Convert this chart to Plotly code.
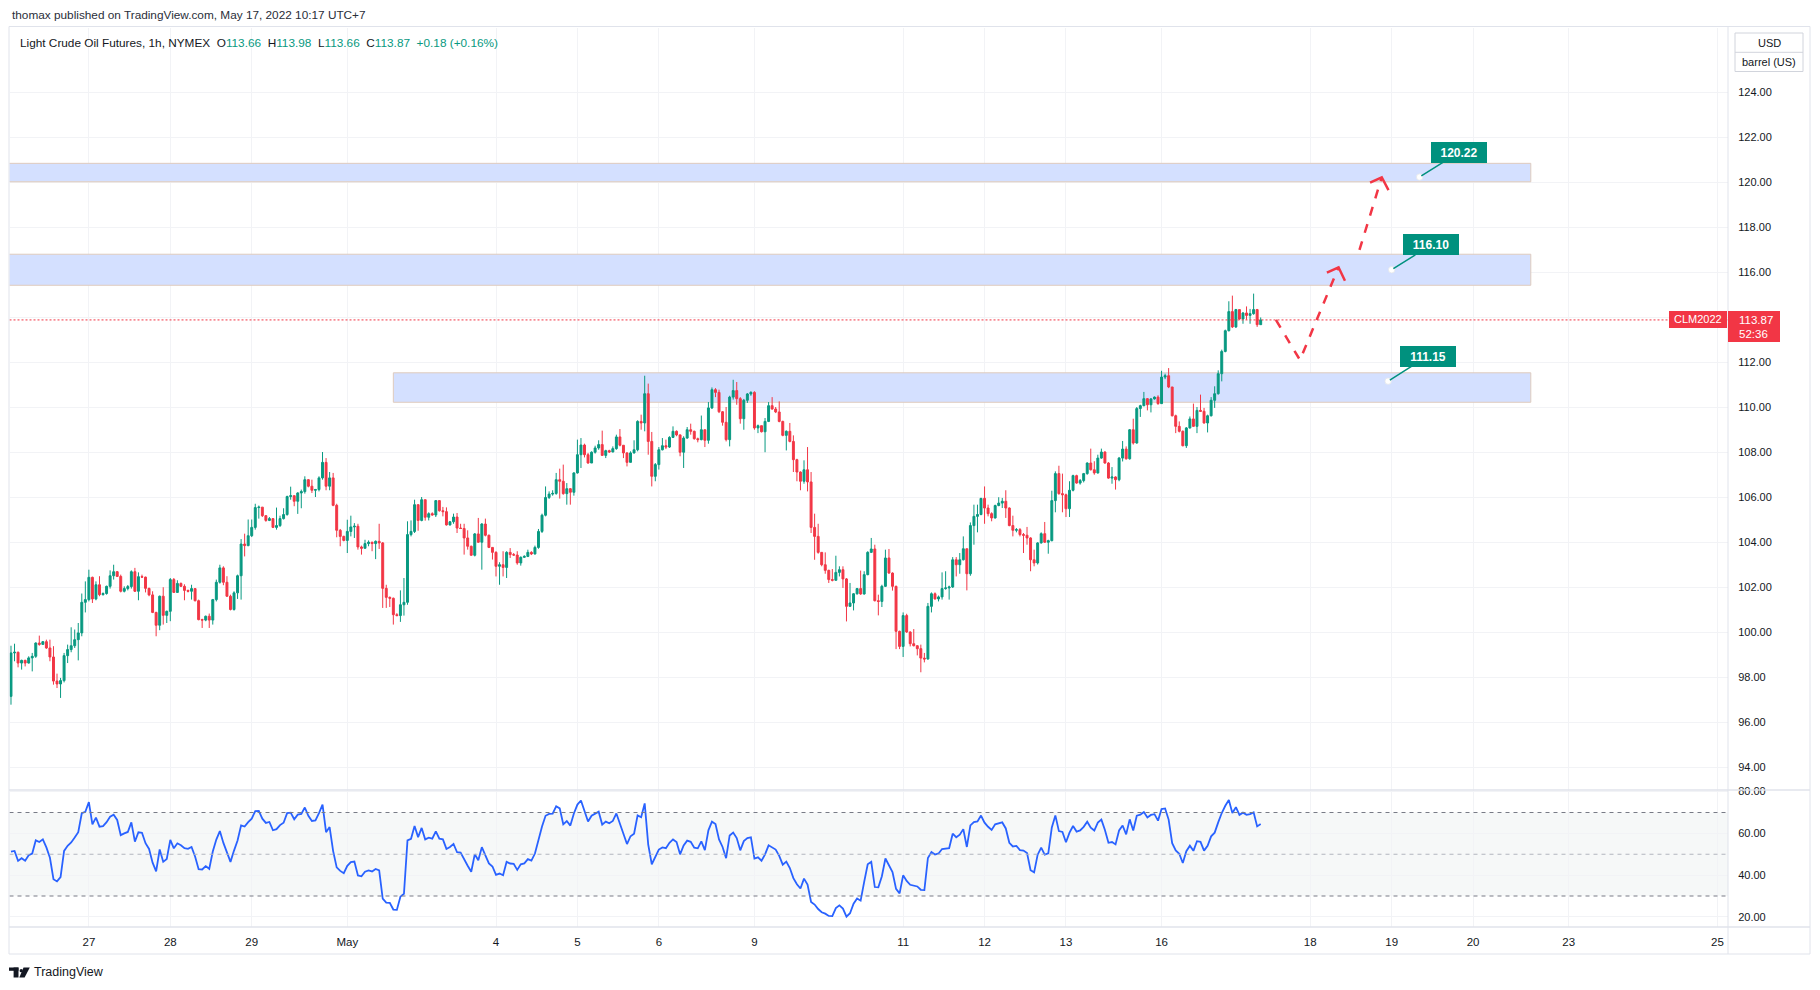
import plotly.graph_objects as go

W, H = 1820, 990

# hourly bars of CLM2022, 26 Apr 01:00 -> 17 May 10:00 (UTC+7)
first_open = 97.14
closes = [
    99.07, 99.10, 98.62, 98.74, 98.62, 98.85, 98.92, 99.51, 99.45, 99.57,
    99.29, 98.89, 97.82, 97.69, 97.84, 98.95, 99.22, 99.39, 99.66, 99.96,
    101.32, 101.44, 102.43, 101.47, 102.10, 101.66, 101.71, 102.03, 102.50, 102.68,
    102.47, 101.81, 101.93, 102.02, 102.68, 101.81, 102.46, 102.44, 101.94, 101.65,
    100.87, 100.30, 101.59, 100.74, 100.92, 102.33, 101.76, 102.16, 102.03, 101.85,
    101.81, 101.93, 101.39, 100.55, 100.53, 100.70, 100.53, 101.44, 102.21, 102.85,
    102.21, 101.59, 101.00, 101.74, 102.50, 103.91, 103.84, 104.28, 104.65, 105.53,
    105.55, 105.17, 104.96, 105.04, 104.65, 104.73, 105.04, 105.22, 106.02, 106.06,
    105.81, 106.18, 106.24, 106.77, 106.48, 106.30, 106.33, 106.85, 107.54, 106.48,
    106.85, 105.63, 104.52, 104.25, 104.07, 104.47, 104.67, 104.70, 103.78, 103.72,
    103.93, 103.99, 103.93, 104.03, 103.96, 101.94, 101.54, 101.50, 100.77, 100.73,
    101.21, 101.32, 104.33, 104.47, 105.66, 104.96, 105.88, 105.10, 105.26, 105.20,
    105.84, 105.39, 105.35, 104.76, 104.90, 105.11, 104.62, 104.60, 104.18, 103.81,
    103.41, 104.36, 103.99, 104.80, 104.30, 103.76, 103.54, 102.92, 102.99, 102.87,
    103.54, 103.44, 103.42, 103.07, 103.32, 103.36, 103.54, 103.47, 103.76, 104.47,
    105.19, 105.98, 106.13, 106.16, 106.77, 106.70, 106.15, 106.37, 106.21, 107.07,
    107.88, 108.31, 107.88, 107.51, 107.99, 108.18, 108.33, 107.85, 108.06, 108.00,
    108.15, 108.67, 108.30, 107.96, 107.54, 107.96, 108.10, 109.36, 109.29, 110.59,
    108.47, 106.92, 107.44, 108.10, 108.28, 108.22, 108.65, 108.92, 108.76, 107.99,
    108.62, 108.99, 108.92, 108.59, 108.55, 108.99, 108.52, 109.96, 110.77, 110.65,
    109.79, 109.32, 108.55, 110.44, 110.73, 110.37, 109.48, 110.30, 110.58, 110.65,
    109.07, 109.17, 108.90, 109.36, 110.06, 109.91, 109.78, 109.36, 108.74, 108.92,
    108.47, 107.66, 107.11, 106.70, 107.21, 106.67, 104.65, 104.25, 103.54, 102.99,
    102.74, 102.33, 102.30, 102.65, 102.77, 102.36, 101.14, 101.29, 101.70, 101.93,
    101.69, 102.55, 103.54, 103.69, 101.39, 101.36, 102.03, 103.29, 102.62, 102.03,
    100.03, 99.36, 100.73, 100.00, 99.48, 99.39, 99.26, 98.84, 98.80, 101.14,
    101.70, 101.47, 101.56, 101.93, 101.96, 102.00, 103.21, 102.99, 103.21, 103.70,
    102.59, 104.73, 105.14, 105.22, 105.94, 105.51, 105.26, 105.07, 105.62, 105.73,
    105.81, 105.51, 104.73, 104.52, 104.55, 104.33, 104.30, 104.18, 103.21, 103.07,
    103.96, 104.37, 103.99, 104.06, 105.84, 107.04, 106.15, 106.10, 105.48, 106.30,
    106.95, 106.62, 106.73, 107.04, 107.51, 107.21, 107.07, 107.73, 108.00, 107.51,
    106.84, 106.89, 106.77, 107.73, 108.13, 107.70, 108.99, 108.40, 109.93, 110.06,
    110.37, 110.10, 110.36, 110.44, 110.15, 111.33, 111.39, 110.89, 109.61, 109.14,
    108.92, 108.28, 109.07, 109.47, 109.14, 109.85, 109.81, 109.29, 109.61, 110.30,
    110.59, 111.48, 112.47, 113.39, 114.24, 113.56, 114.33, 113.91, 114.18, 114.07,
    114.15, 114.33, 113.66, 113.87,
]
highs = [
    99.39, 99.48, 99.13, 98.77, 98.77, 98.92, 99.07, 99.54, 99.84, 99.60,
    99.66, 99.66, 99.37, 98.15, 97.96, 99.07, 99.44, 100.21, 100.11, 100.40,
    101.71, 102.25, 102.77, 102.46, 102.25, 102.48, 101.76, 102.06, 102.74, 102.99,
    102.71, 102.55, 102.03, 102.09, 102.74, 102.85, 102.65, 102.55, 102.46, 101.97,
    101.81, 100.90, 101.62, 101.99, 100.95, 102.40, 102.40, 102.30, 102.20, 102.12,
    101.88, 102.10, 101.93, 101.44, 100.59, 100.73, 100.82, 101.47, 102.33, 102.99,
    102.92, 102.48, 101.66, 101.81, 102.55, 104.13, 104.37, 105.00, 105.00, 105.70,
    105.62, 105.55, 105.20, 105.11, 105.04, 105.53, 105.17, 105.50, 106.06, 106.46,
    106.06, 106.21, 106.33, 106.92, 106.80, 106.77, 106.36, 106.92, 108.00, 107.73,
    107.11, 107.07, 105.70, 104.58, 104.28, 104.99, 105.17, 104.84, 104.81, 103.84,
    104.10, 104.07, 104.01, 104.07, 104.81, 104.00, 102.10, 101.58, 101.53, 100.84,
    101.85, 102.40, 104.92, 104.96, 105.88, 105.66, 106.00, 105.88, 105.32, 105.32,
    105.85, 105.84, 105.56, 105.54, 104.93, 105.26, 105.29, 104.81, 104.81, 104.52,
    103.84, 104.40, 105.07, 104.84, 105.04, 104.33, 103.76, 103.59, 103.10, 103.59,
    103.59, 103.73, 103.51, 103.59, 103.36, 103.41, 103.66, 103.59, 103.84, 104.58,
    105.26, 106.47, 106.25, 106.30, 107.07, 107.26, 107.44, 106.62, 106.40, 107.10,
    108.55, 108.62, 108.37, 107.96, 108.03, 108.28, 108.52, 108.95, 108.10, 108.10,
    108.25, 108.77, 109.02, 108.31, 107.99, 108.03, 108.52, 109.41, 109.66, 111.39,
    111.04, 108.89, 107.51, 108.22, 108.62, 108.55, 108.70, 109.14, 108.96, 108.78,
    108.70, 109.11, 109.26, 108.95, 108.64, 109.62, 108.99, 110.22, 110.87, 110.84,
    110.77, 109.82, 110.00, 110.50, 111.21, 111.11, 110.44, 110.36, 110.62, 110.70,
    110.70, 109.22, 109.17, 109.51, 110.22, 110.44, 110.00, 110.25, 109.39, 108.96,
    109.29, 108.74, 107.70, 107.14, 107.63, 108.22, 107.11, 105.26, 104.81, 103.54,
    103.54, 102.77, 102.80, 103.39, 102.92, 102.92, 102.40, 102.18, 101.73, 101.96,
    102.73, 102.70, 103.59, 104.18, 103.88, 101.66, 102.10, 103.66, 103.69, 102.65,
    102.06, 100.06, 100.87, 100.81, 100.03, 100.13, 99.41, 99.44, 99.07, 101.29,
    101.76, 101.76, 101.62, 102.65, 102.70, 102.06, 103.33, 103.33, 103.51, 104.25,
    103.70, 104.87, 105.66, 105.66, 105.96, 106.47, 105.66, 105.32, 105.66, 105.99,
    105.96, 106.30, 105.54, 105.17, 104.62, 104.62, 104.40, 104.67, 104.21, 103.66,
    103.99, 104.43, 104.89, 104.10, 106.28, 107.14, 107.39, 107.04, 106.15, 106.70,
    106.99, 106.99, 106.80, 107.07, 107.54, 108.15, 107.59, 107.88, 108.15, 108.03,
    107.55, 107.33, 106.92, 107.78, 108.49, 108.25, 109.02, 109.48, 110.00, 110.10,
    110.67, 110.40, 110.40, 110.47, 110.52, 111.61, 111.48, 111.73, 110.89, 109.66,
    109.36, 108.96, 109.11, 109.58, 110.15, 110.00, 110.55, 109.96, 109.66, 110.44,
    110.92, 111.63, 112.55, 113.44, 114.70, 114.95, 114.36, 114.33, 114.22, 114.47,
    114.36, 115.04, 114.36, 113.98,
]
lows = [
    96.77, 98.70, 98.43, 98.33, 98.47, 98.60, 98.25, 98.85, 99.39, 99.45,
    99.25, 98.70, 97.66, 97.51, 97.07, 97.76, 98.62, 99.10, 99.29, 98.74,
    99.81, 100.87, 101.36, 101.29, 101.41, 101.59, 101.62, 101.66, 101.93, 102.33,
    102.45, 101.76, 101.76, 101.85, 101.93, 101.78, 101.41, 102.40, 101.76, 101.59,
    100.84, 99.81, 100.08, 100.33, 100.40, 100.48, 101.74, 101.74, 102.00, 101.41,
    101.76, 101.44, 101.36, 100.52, 100.18, 100.48, 100.18, 100.33, 101.36, 102.15,
    102.08, 101.56, 100.96, 100.95, 101.47, 101.44, 103.36, 103.81, 104.22, 104.55,
    105.04, 105.11, 104.90, 104.93, 104.62, 104.55, 104.67, 105.00, 105.17, 105.88,
    105.59, 105.25, 105.50, 106.15, 106.43, 106.18, 106.00, 106.25, 106.77, 106.30,
    106.30, 105.59, 104.21, 103.81, 104.03, 103.51, 104.25, 104.18, 103.66, 103.44,
    103.72, 103.81, 103.59, 103.24, 103.69, 101.07, 101.07, 101.11, 100.33, 100.70,
    100.45, 100.73, 101.21, 104.25, 104.40, 104.50, 104.92, 104.95, 104.96, 105.17,
    105.11, 105.35, 105.14, 104.73, 104.73, 104.81, 104.40, 104.58, 103.44, 103.66,
    103.39, 103.36, 103.96, 102.77, 104.25, 103.73, 103.22, 102.47, 102.10, 102.47,
    102.40, 103.29, 103.38, 102.99, 102.95, 103.29, 103.33, 103.42, 103.44, 103.70,
    104.40, 105.14, 105.91, 106.06, 106.10, 105.93, 106.10, 105.66, 105.66, 106.06,
    107.04, 107.29, 107.76, 107.48, 107.51, 107.93, 108.10, 107.84, 107.73, 107.96,
    107.99, 108.10, 108.25, 107.73, 107.36, 107.54, 107.93, 108.03, 108.99, 108.92,
    107.88, 106.47, 106.70, 107.22, 108.07, 108.13, 108.18, 108.62, 108.70, 107.81,
    107.29, 108.59, 108.77, 108.55, 108.43, 108.52, 108.22, 108.37, 109.91, 110.44,
    109.73, 109.17, 108.47, 108.25, 110.33, 110.10, 109.26, 108.99, 110.18, 110.50,
    108.99, 108.84, 108.87, 107.99, 109.33, 109.88, 109.73, 109.32, 108.70, 108.07,
    108.43, 107.11, 106.70, 106.30, 106.59, 106.25, 104.40, 103.21, 103.48, 102.92,
    102.59, 102.18, 102.25, 102.28, 102.47, 101.96, 100.47, 101.14, 100.96, 101.66,
    101.65, 101.66, 102.52, 103.51, 101.36, 100.74, 101.11, 102.00, 102.59, 101.84,
    99.24, 99.24, 98.89, 99.96, 99.36, 99.36, 98.96, 98.21, 98.65, 98.77,
    100.87, 101.44, 101.36, 101.44, 101.88, 101.44, 101.96, 102.47, 102.59, 103.18,
    101.85, 102.50, 103.88, 104.43, 105.19, 104.81, 105.14, 104.92, 105.04, 105.59,
    105.51, 105.07, 104.70, 104.25, 104.43, 104.25, 103.51, 103.88, 102.70, 102.92,
    103.00, 103.93, 103.96, 103.48, 104.03, 105.32, 106.10, 105.32, 105.11, 105.11,
    106.25, 106.59, 106.55, 106.65, 106.99, 107.18, 106.99, 107.04, 107.70, 107.48,
    106.81, 106.59, 106.33, 106.70, 107.58, 107.66, 107.66, 108.33, 108.37, 109.56,
    110.03, 109.85, 109.76, 110.33, 110.10, 110.15, 111.24, 110.84, 109.58, 108.84,
    108.87, 108.25, 108.18, 109.04, 109.11, 108.84, 109.78, 109.26, 108.87, 109.58,
    109.96, 110.55, 111.14, 112.43, 113.36, 113.51, 113.51, 113.88, 113.70, 113.88,
    113.70, 114.10, 113.56, 113.66,
]
# each bar opens where the previous one closed
opens = [first_open] + closes[:-1]
bar_idx = list(range(len(closes)))

# day labels on the time axis (bar index of the first bar of that day)
day_idx = [22, 45, 68, 95, 137, 160, 183, 210, 252, 275, 298, 325, 367, 390, 413, 440, 482]
day_text = ["27", "28", "29", "May", "4", "5", "6", "9", "11", "12", "13", "16",
            "18", "19", "20", "23", "25"]

price_ticks = [94, 96, 98, 100, 102, 104, 106, 108, 110, 112, 114, 116, 118, 120, 122, 124]
rsi_ticks = [20, 40, 60, 80]
rsi_band = [30, 70]
rsi_mid = 50

# drawn supply/demand zones
zone_low = [120.01, 115.41, 110.21]
zone_high = [120.83, 116.79, 111.52]
zone_start = [-20, -20, 108.0]
zone_end = [429.3, 429.3, 429.3]

# price callouts
callout_price = [120.22, 116.10, 111.15]
callout_idx = [397.9, 390.0, 389.0]

# projected path (dashed arrows)
path1_x = [357.3, 364.1, 375.0]
path1_y = [113.87, 112.09, 116.21]
head1_x = [371.7, 375.0, 376.8]
head1_y = [115.97, 116.21, 115.61]
path2_x = [380.9, 387.2]
path2_y = [116.98, 120.21]
head2_x = [383.9, 387.2, 389.1]
head2_y = [119.97, 120.21, 119.64]

UP = "#089981"
DN = "#f23645"
TEAL = "#00917e"
TXT = "#131722"
FRAME = "#e0e3eb"
GRID = "#f2f3f6"
FONT = "Liberation Sans, Arial, sans-serif"

# pane geometry (pixels)
PL, PR = 9.5, 1728
MT, MB = 27.5, 790
RT, RB = 790, 927
X_RANGE = [-0.42, 485.0]
Y_RANGE = [92.978, 126.867]
R_RANGE = [15.15, 80.78]


def fx(p):
    return p / W


def fy(p):
    return 1 - p / H


def price_px(p):
    return MT + (Y_RANGE[1] - p) / (Y_RANGE[1] - Y_RANGE[0]) * (MB - MT)


def rect_px(x0, y0, x1, y1, **kw):
    return dict(type="rect", xref="paper", yref="paper",
                x0=fx(x0), x1=fx(x1), y0=fy(y1), y1=fy(y0), **kw)


def line_px(x0, y0, x1, y1, **kw):
    return dict(type="line", xref="paper", yref="paper",
                x0=fx(x0), x1=fx(x1), y0=fy(y0), y1=fy(y1), **kw)


def rsi(values, n=14, seed_gain=0.20, seed_loss=0.19):
    ag, al = seed_gain, seed_loss
    out = [100 - 100 / (1 + ag / al)]
    for a, b in zip(values[:-1], values[1:]):
        d = b - a
        ag = (ag * (n - 1) + max(d, 0)) / n
        al = (al * (n - 1) + max(-d, 0)) / n
        out.append(100 - 100 / (1 + ag / al))
    return out


rsi_vals = rsi(closes)
last = closes[-1]

fig = go.Figure()

fig.add_trace(go.Candlestick(
    x=bar_idx, open=opens, high=highs, low=lows, close=closes,
    increasing=dict(line=dict(color=UP, width=1), fillcolor=UP),
    decreasing=dict(line=dict(color=DN, width=1), fillcolor=DN),
    whiskerwidth=0, xaxis="x", yaxis="y", showlegend=False,
))

for px_, py_, dash in [(path1_x, path1_y, "9px,9px"), (head1_x, head1_y, "solid"),
                       (path2_x, path2_y, "9px,9px"), (head2_x, head2_y, "solid")]:
    fig.add_trace(go.Scatter(x=px_, y=py_, mode="lines", xaxis="x", yaxis="y",
                             line=dict(color=DN, width=2.5, dash=dash), showlegend=False))

fig.add_trace(go.Scatter(
    x=bar_idx, y=rsi_vals, mode="lines", xaxis="x2", yaxis="y2",
    line=dict(color="#2962ff", width=1.8), showlegend=False,
))

shapes = []
# rsi band and levels
shapes.append(dict(type="rect", xref="x2 domain", yref="y2", x0=0, x1=1,
                   y0=rsi_band[0], y1=rsi_band[1], fillcolor="#f6f8f8",
                   line=dict(width=0), layer="below"))
for lv in rsi_band:
    shapes.append(dict(type="line", xref="x2 domain", yref="y2", x0=0, x1=1, y0=lv, y1=lv,
                       line=dict(color="#787b86", width=1, dash="4px,4px")))
shapes.append(dict(type="line", xref="x2 domain", yref="y2", x0=0, x1=1, y0=rsi_mid, y1=rsi_mid,
                   line=dict(color="#b2b5be", width=1, dash="4px,4px")))

# zones (over the grid, under the candles)
for lo, hi, s, e in zip(zone_low, zone_high, zone_start, zone_end):
    shapes.append(dict(type="rect", xref="x", yref="y", x0=s, x1=e, y0=lo, y1=hi,
                       fillcolor="#d4e0ff", line=dict(color="#dfcbbd", width=1),
                       layer="between"))

# last price line
shapes.append(dict(type="line", xref="x domain", yref="y", x0=0, x1=1, y0=last, y1=last,
                   line=dict(color=DN, width=1, dash="2px,2px")))

# frame
shapes.append(rect_px(9, 26.5, 1810, 954, line=dict(color=FRAME, width=1)))
shapes.append(line_px(9, MB, 1810, MB, line=dict(color=FRAME, width=1.5)))
shapes.append(line_px(9, RB, 1810, RB, line=dict(color=FRAME, width=1.5)))
shapes.append(line_px(PR, 26.5, PR, 954, line=dict(color=FRAME, width=1)))

# unit box
shapes.append(rect_px(1735, 33, 1803, 71.5, line=dict(color="#d1d4dc", width=1)))
shapes.append(line_px(1735, 52.3, 1803, 52.3, line=dict(color="#d1d4dc", width=1)))

# price label box on the axis
lp = price_px(last)
shapes.append(rect_px(1669, lp - 9, 1727, lp + 8, fillcolor=DN, line=dict(width=0)))
shapes.append(rect_px(1728, lp - 9, 1780, lp + 22, fillcolor=DN, line=dict(width=0)))

# TradingView logo mark
logo = "#131722"
shapes.append(rect_px(9, 967.5, 18.5, 970.8, fillcolor=logo, line=dict(width=0)))
shapes.append(rect_px(13.6, 967.5, 18.5, 977.5, fillcolor=logo, line=dict(width=0)))
shapes.append(dict(type="circle", xref="paper", yref="paper",
                   x0=fx(19.6), x1=fx(22.8), y0=fy(972.3), y1=fy(969.1),
                   fillcolor=logo, line=dict(width=0)))
shapes.append(dict(type="path", xref="paper", yref="paper", fillcolor=logo, line=dict(width=0),
                   path=f"M {fx(23.5)},{fy(967.5)} L {fx(29.8)},{fy(967.5)} "
                        f"L {fx(24.6)},{fy(977.5)} L {fx(19.3)},{fy(977.5)} Z"))

annotations = [
    dict(xref="paper", yref="paper", x=fx(10), y=fy(15), xanchor="left", yanchor="middle",
         text="thomax published on TradingView.com, May 17, 2022 10:17 UTC+7",
         showarrow=False, font=dict(size=11.8, color="#2a2e39")),
    dict(xref="paper", yref="paper", x=fx(18), y=fy(42.5), xanchor="left", yanchor="middle",
         text=(f"Light Crude Oil Futures, 1h, NYMEX&nbsp;&nbsp;"
               f"O<span style='color:{UP}'>{opens[-1]:.2f}</span>&nbsp;&nbsp;"
               f"H<span style='color:{UP}'>{highs[-1]:.2f}</span>&nbsp;&nbsp;"
               f"L<span style='color:{UP}'>{lows[-1]:.2f}</span>&nbsp;&nbsp;"
               f"C<span style='color:{UP}'>{last:.2f}</span>&nbsp;&nbsp;"
               f"<span style='color:{UP}'>+0.18 (+0.16%)</span>"),
         showarrow=False, font=dict(size=11.8, color=TXT)),
    dict(xref="paper", yref="paper", x=fx(1769), y=fy(42.5), xanchor="center", yanchor="middle",
         text="USD", showarrow=False, font=dict(size=11, color=TXT)),
    dict(xref="paper", yref="paper", x=fx(1769), y=fy(61.5), xanchor="center", yanchor="middle",
         text="barrel (US)", showarrow=False, font=dict(size=11, color=TXT)),
    dict(xref="paper", yref="paper", x=fx(1698), y=fy(lp - 0.5), xanchor="center", yanchor="middle",
         text="CLM2022", showarrow=False, font=dict(size=11, color="white")),
    dict(xref="paper", yref="paper", x=fx(1737), y=fy(lp), xanchor="left", yanchor="middle",
         text=f"{last:.2f}", showarrow=False, font=dict(size=11.5, color="white")),
    dict(xref="paper", yref="paper", x=fx(1737), y=fy(lp + 14), xanchor="left", yanchor="middle",
         text="52:36", showarrow=False, font=dict(size=11.5, color="white")),
    dict(xref="paper", yref="paper", x=fx(32), y=fy(972), xanchor="left", yanchor="middle",
         text="TradingView", showarrow=False, font=dict(size=12.5, color=TXT)),
]
for ci, cp in zip(callout_idx, callout_price):
    annotations.append(dict(
        x=ci, y=cp, xref="x", yref="y", text=f"<b>{cp:.2f}</b>",
        showarrow=True, arrowhead=0, arrowwidth=1.5, arrowcolor=TEAL, standoff=2,
        ax=39.5, ay=-25, bgcolor=TEAL, bordercolor=TEAL, borderwidth=1, borderpad=3,
        width=48, height=13, font=dict(size=12, color="white"),
    ))

# white anchor dots of the callouts, drawn above the pointer lines
for ci, cp in zip(callout_idx, callout_price):
    shapes.append(dict(type="circle", xref="x", yref="y", xsizemode="pixel", ysizemode="pixel",
                       xanchor=ci, yanchor=cp, x0=-3.2, x1=3.2, y0=-3.2, y1=3.2,
                       fillcolor="white", line=dict(color="#e3e6ea", width=0.8)))

axis_common = dict(range=X_RANGE, domain=[fx(PL), fx(PR)], tickvals=day_idx,
                   showgrid=True, gridcolor=GRID, zeroline=False, showline=False,
                   fixedrange=True)

fig.update_layout(
    width=W, height=H, margin=dict(l=0, r=0, t=0, b=0, autoexpand=False),
    paper_bgcolor="white", plot_bgcolor="white",
    font=dict(family=FONT, color=TXT, size=11),
    hovermode=False, showlegend=False, boxgap=0.22,
    xaxis=dict(anchor="y", showticklabels=False, rangeslider=dict(visible=False), **axis_common),
    xaxis2=dict(anchor="y2", ticktext=day_text, ticks="outside", ticklen=4,
                tickcolor="rgba(0,0,0,0)", tickfont=dict(size=11.5, color=TXT), **axis_common),
    yaxis=dict(anchor="x", side="right", domain=[fy(MB), fy(MT)], range=Y_RANGE,
               tickvals=price_ticks, ticktext=[f"{v:.2f}" for v in price_ticks],
               ticks="outside", ticklen=7, tickcolor="rgba(0,0,0,0)",
               tickfont=dict(size=11, color=TXT), showgrid=True, gridcolor=GRID,
               zeroline=False, fixedrange=True),
    yaxis2=dict(anchor="x2", side="right", domain=[fy(RB), fy(RT)], range=R_RANGE,
                tickvals=rsi_ticks, ticktext=[f"{v:.2f}" for v in rsi_ticks],
                ticks="outside", ticklen=7, tickcolor="rgba(0,0,0,0)",
                tickfont=dict(size=11, color=TXT), showgrid=True, gridcolor=GRID,
                zeroline=False, fixedrange=True),
    shapes=shapes, annotations=annotations,
)

fig.write_html("out.html", config={"displayModeBar": False},
               post_script="document.body.style.margin='0';")
